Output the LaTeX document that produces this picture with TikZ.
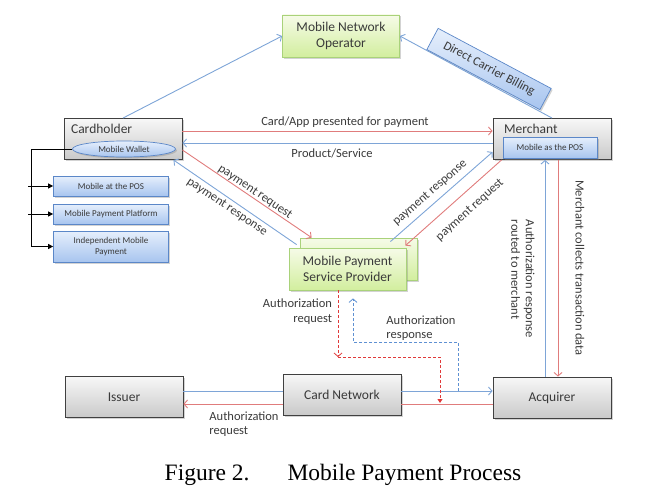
\documentclass[tikz,border=0pt]{standalone}
\usepackage{fontspec}
\setmainfont{Carlito}
\newfontfamily\capfont{Liberation Serif}
\usetikzlibrary{arrows.meta,shadows,shapes.geometric}

\definecolor{txt}{HTML}{3A3A3A}
\definecolor{redl}{HTML}{E07C7C}
\definecolor{bluel}{HTML}{7EA5D7}
\definecolor{redd}{HTML}{E03A3A}
\definecolor{blued}{HTML}{5E90D2}
\definecolor{grT}{HTML}{F6FBE8}
\definecolor{grB}{HTML}{D2EE9E}
\definecolor{grD}{HTML}{A9D27A}
\definecolor{blT}{HTML}{E6EFFC}
\definecolor{blB}{HTML}{A8C5EF}
\definecolor{blD}{HTML}{5B87C8}

\begin{document}
\begin{tikzpicture}[x=1pt,y=-1pt,>={Straight Barb[length=3.5pt,width=8pt]},
    every node/.style={text=txt},
    shd/.style={drop shadow={shadow xshift=1.5pt,shadow yshift=-1.5pt,opacity=.35}},
    gbox/.style={shd,draw=black!75,line width=.9pt,top color=gray!6,bottom color=gray!42,
        minimum width=118pt,minimum height=41pt,font=\fontsize{13.5}{16}\selectfont},
    grbox/.style={shd,draw=grD,line width=.8pt,top color=grT,bottom color=grB,align=center,
        minimum width=117pt,minimum height=42pt,font=\fontsize{13.5}{16.5}\selectfont},
    bbox/.style={shd,draw=blD,line width=.7pt,top color=blT,bottom color=blB,align=center,
        minimum width=115pt,minimum height=20pt,inner sep=1pt,font=\fontsize{9}{11.5}\selectfont},
    ttl/.style={anchor=north west,font=\fontsize{13.5}{16}\selectfont},
    lb/.style={font=\fontsize{12.5}{14.5}\selectfont,inner sep=1pt},
    rl/.style={draw=redl,line width=.9pt},
    bl/.style={draw=bluel,line width=.9pt},
    rd/.style={draw=redd,line width=.8pt,dash pattern=on 3pt off 2pt},
    bd/.style={draw=blued,line width=.8pt,dash pattern=on 3pt off 2pt},
    kl/.style={draw=black,line width=.8pt}]

\useasboundingbox (0,0) rectangle (652,495);

% top and the two main parties
\node[grbox] (MNO) at (341,36) {Mobile Network\\Operator};
\node[gbox,label={[ttl,xshift=4pt,yshift=-3pt]north west:Cardholder}] (CH) at (123,139) {};
\node[gbox,label={[ttl,xshift=8pt,yshift=-3pt]north west:Merchant}] (MER) at (552,139) {};
\node[bbox,ellipse,minimum width=103pt,minimum height=16pt,inner sep=0pt] (W) at (124,149) {Mobile Wallet};
\node[bbox,minimum width=94pt,minimum height=21pt] (POS) at (550,147.5) {Mobile as the POS};

% wallet types
\node[bbox] (B1) at (111,186) {Mobile at the POS};
\node[bbox] (B2) at (111,214) {Mobile Payment Platform};
\node[bbox,minimum height=31pt] (B3) at (111,246.5) {Independent Mobile\\Payment};

% service provider (two stacked boxes)
\node[grbox] (MPb) at (358.5,259) {};
\node[grbox] (MPf) at (347.5,269) {Mobile Payment\\Service Provider};

% bottom row
\node[gbox] (ISS) at (124,397) {Issuer};
\node[gbox] (CN) at (342,394.5) {Card Network};
\node[gbox] (ACQ) at (552,397.5) {Acquirer};

% carrier billing
\draw[bl,->] (CH.north) -- (MNO.west);
\draw[bl,->] (MER.north) -- (MNO.east);
\node[bbox,rotate=-28,minimum width=128pt,minimum height=24pt,font=\fontsize{12.5}{14}\selectfont] (DCB) at (489,69) {Direct Carrier Billing};

% cardholder <-> merchant
\draw[rl,->] ([yshift=8pt]CH.east) -- ([yshift=8pt]CH.east -| MER.west);
\draw[bl,->] ([yshift=-4pt]MER.west) -- ([yshift=-4pt]MER.west -| CH.east);
\node[lb] (L1) at (345,122) {Card/App presented for payment};
\node[lb] (L2) at (332,153) {Product/Service};

% payment request / response
\draw[rl,->] ([yshift=-11pt]CH.east) -- ([xshift=12pt]MPb.north west);
\draw[bl,->] ([xshift=8pt,yshift=3pt]MPf.north west) -- ([xshift=-9pt]CH.south east);
\draw[bl,->] ([xshift=-27pt,yshift=-4pt]MPb.north east) -- ([yshift=-13pt]MER.west);
\draw[rl,->] ([xshift=9pt]MER.south west) -- ([xshift=-12pt,yshift=-8pt]MPb.north east);
\node[lb,rotate=-34] (L3) at (255,192) {payment request};
\node[lb,rotate=-34] (L4) at (227,207) {payment response};
\node[lb,rotate=41] (L5) at (430,193) {payment response};
\node[lb,rotate=42] (L6) at (470,210) {payment request};

% merchant <-> acquirer
\draw[bl,->] ([xshift=-7pt]ACQ.north) -- ([xshift=-7pt]ACQ.north |- MER.south);
\draw[rl,->] ([xshift=6pt]MER.south) -- ([xshift=6pt]MER.south |- ACQ.north);
\node[lb,rotate=-90,align=left] (L7) at (523,279) {Authorization response\\routed to merchant};
\node[lb,rotate=-90] (L8) at (580,268) {Merchant collects transaction data};

% issuer - card network - acquirer
\draw[bl] ([yshift=6pt]ISS.east) -- ([yshift=6pt]ISS.east -| CN.west);
\draw[bl,->] ([yshift=6pt]ISS.east -| CN.east) -- ([yshift=6pt]ISS.east -| ACQ.west);
\draw[rl] ([yshift=-7pt]ISS.east -| ACQ.west) -- ([yshift=-7pt]ISS.east -| CN.east);
\draw[rl,->] ([yshift=-7pt]ISS.east -| CN.west) -- ([yshift=-7pt]ISS.east);
\node[lb,align=left] (L9) at (244,424) {Authorization\\request};

% authorization via the provider
\coordinate (ar) at (338,357);
\coordinate (ar2) at (440,403);
\coordinate (ab) at (458,391);
\coordinate (ab2) at (353,342);
\draw[rd,->] ([xshift=-9.5pt]MPf.south) -- (ar);
\draw[rd,-{Triangle[length=4pt,width=5pt]}] (ar) -| (ar2);
\draw[bd,->] (ab) |- (ab2) -- ([xshift=5.5pt,yshift=-8pt]MPf.south);
\node[lb,align=right] (L10) at (297.5,311.5) {Authorization\\request};
\node[lb,align=left] (L11) at (421,328) {Authorization\\response};

% left bracket
\draw[kl,-{Triangle[length=5pt,width=5pt]}] (W.west) -| ([xshift=-21.5pt]B3.west) -- (B3.west);
\draw[kl,-{Triangle[length=5pt,width=5pt]}] ([xshift=-25pt]B1.west) -- (B1.west);
\draw[kl,-{Triangle[length=5pt,width=5pt]}] ([xshift=-25pt]B2.west) -- (B2.west);

\node[anchor=base,text=black,font=\capfont\fontsize{23.5}{26}\selectfont] (CAP) at (343,480) {Figure 2.\hspace{38pt}Mobile Payment Process};
\end{tikzpicture}
\end{document}
